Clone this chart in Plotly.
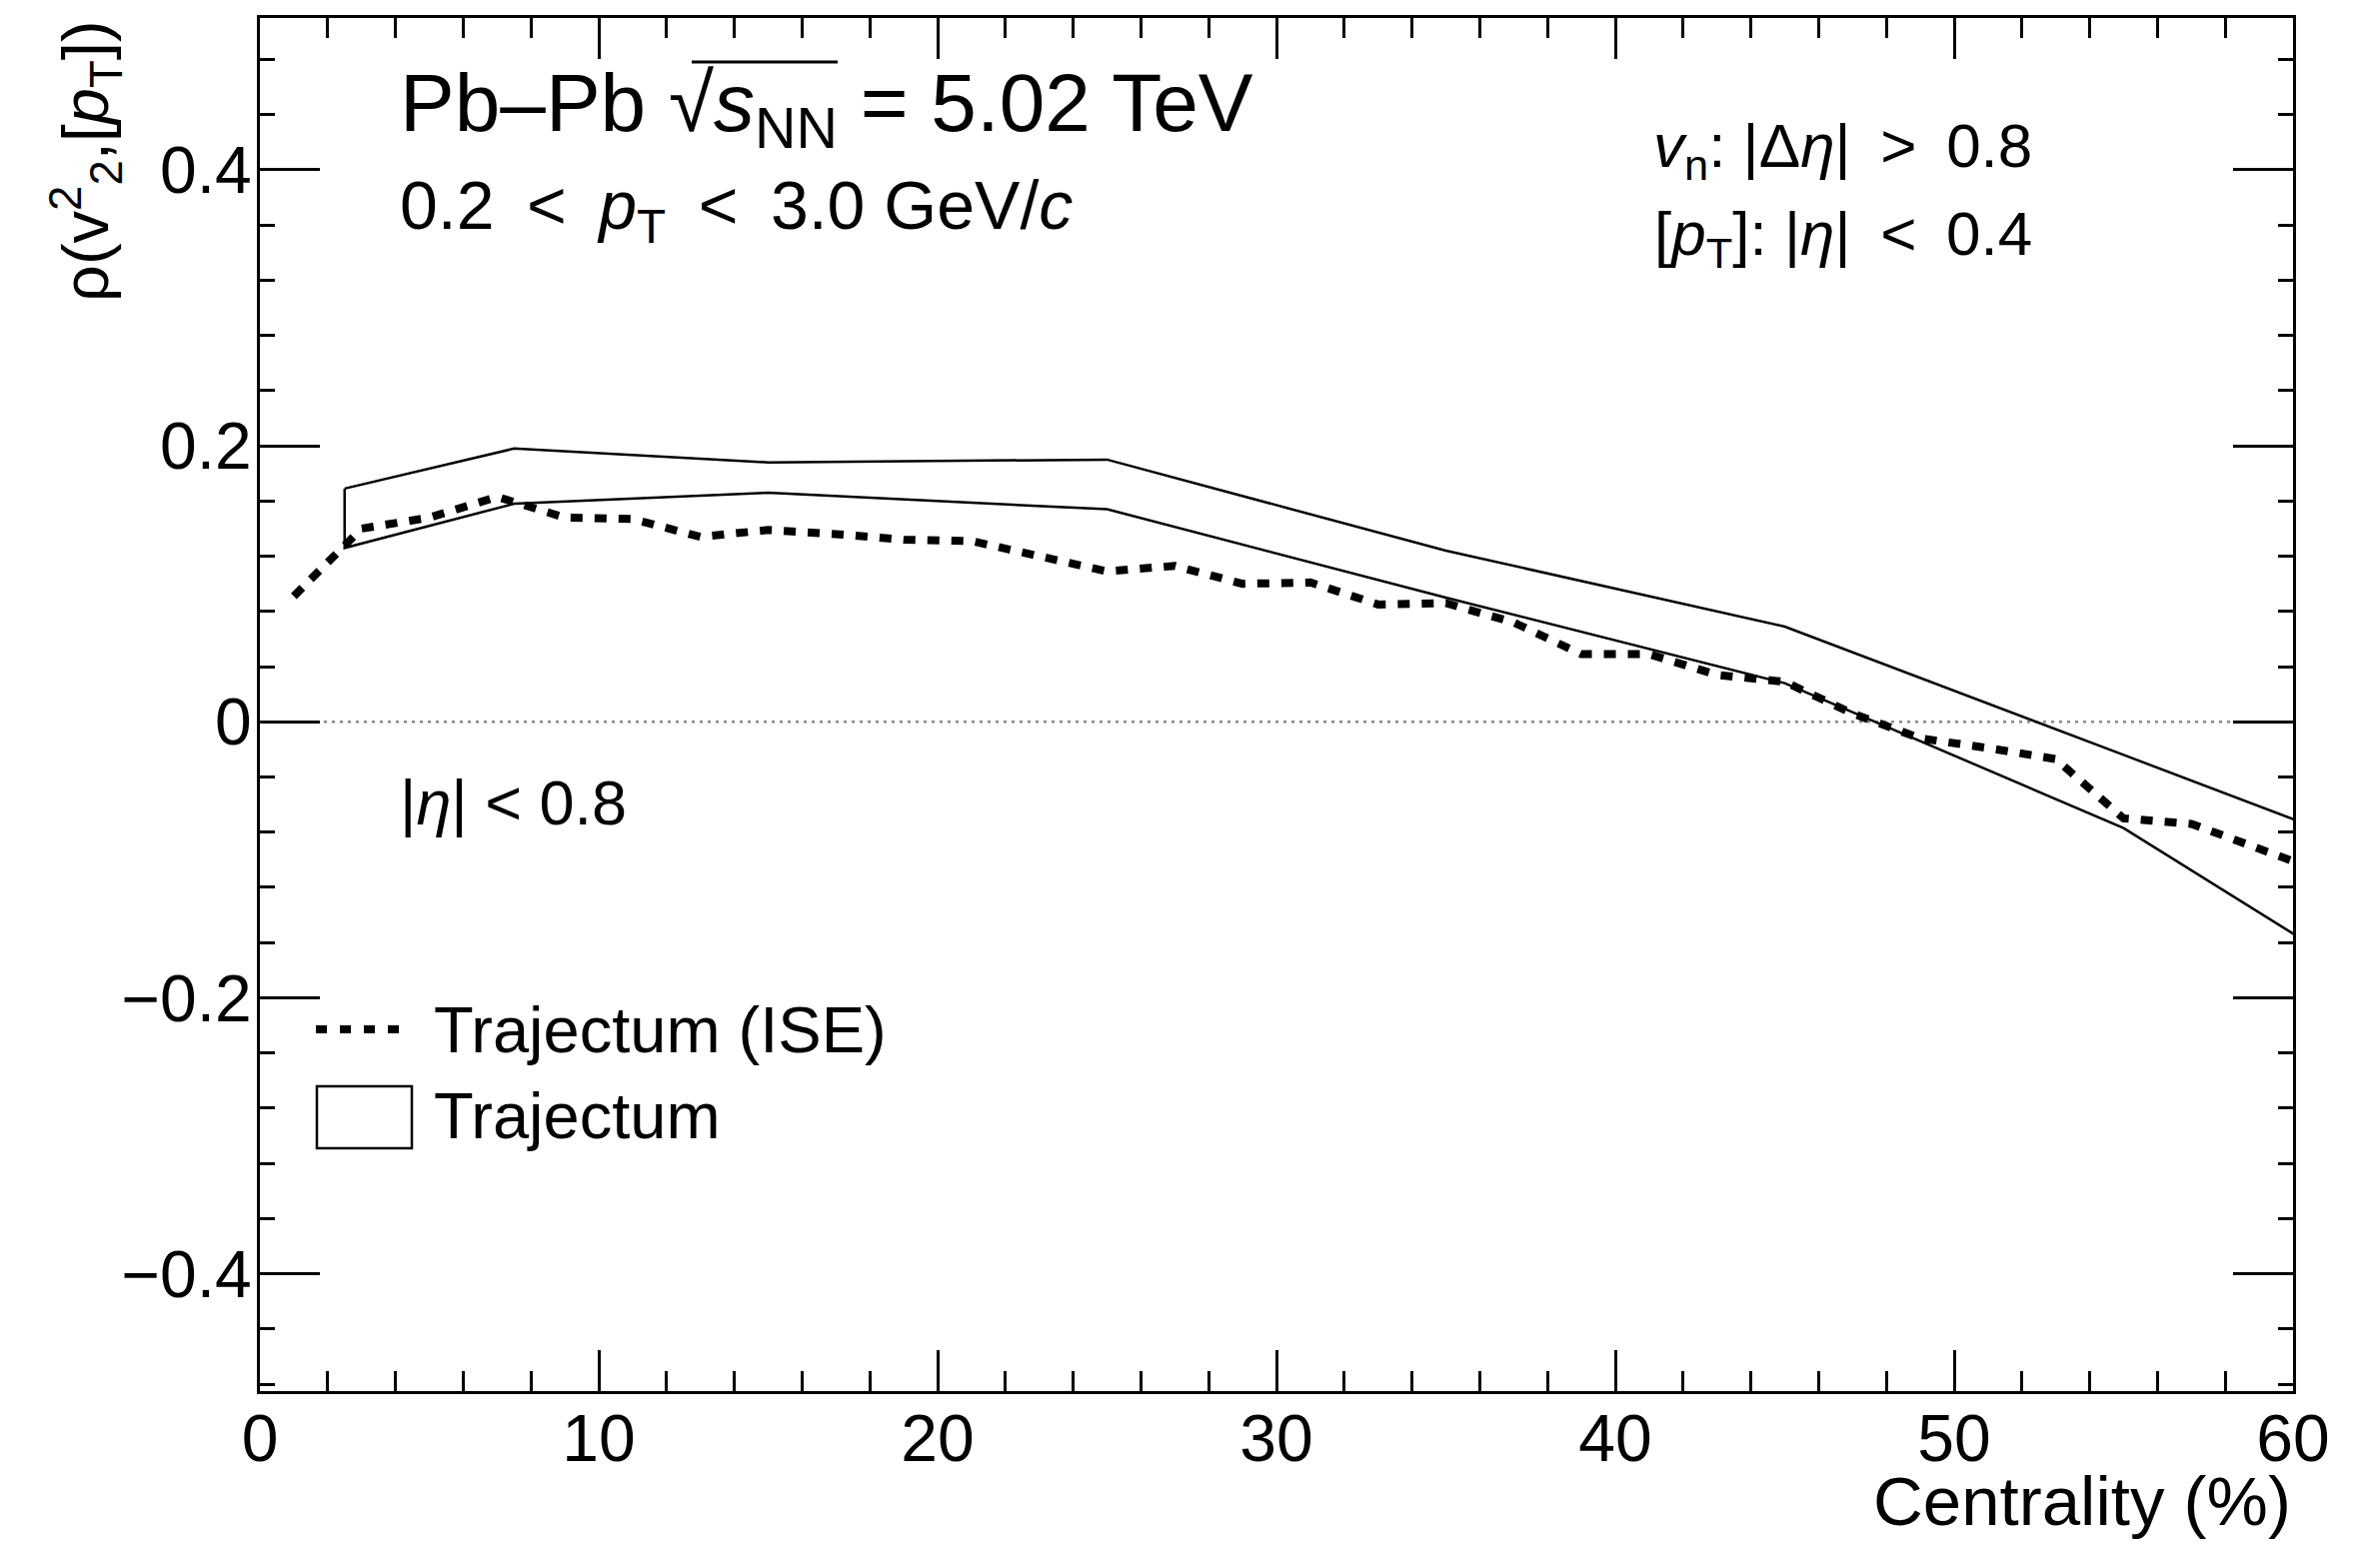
import plotly.graph_objects as go

# Trajectum (ISE) prediction, centrality in %
cent_ise = [1, 3, 5, 7, 9, 11, 13, 15, 17, 19, 21, 23, 25, 27, 29, 31,
            33, 35, 37, 39, 41, 43, 45, 47, 49, 51, 53, 55, 57, 59, 61]
rho_ise = [0.091, 0.140, 0.148, 0.163, 0.148, 0.147, 0.134, 0.139, 0.136,
           0.132, 0.131, 0.120, 0.109, 0.113, 0.100, 0.101, 0.085, 0.086,
           0.072, 0.049, 0.049, 0.034, 0.029, 0.006, -0.012, -0.019,
           -0.027, -0.070, -0.074, -0.092, -0.110]

# Trajectum band (upper / lower edges)
cent_band = [2.5, 7.5, 15, 25, 35, 45, 55, 65]
rho_band_hi = [0.169, 0.198, 0.188, 0.190, 0.124, 0.069, -0.024, -0.117]
rho_band_lo = [0.126, 0.158, 0.166, 0.154, 0.090, 0.028, -0.077, -0.230]

x_range = [0, 60]
y_range = [-0.485, 0.51]
y_ticks = [-0.4, -0.2, 0, 0.2, 0.4]
y_ticktext = ["\u22120.4", "\u22120.2", "0", "0.2", "0.4"]

FONT = "Liberation Sans, Arial, Helvetica, sans-serif"
SP = " \u2009"  # slightly wider word gap

fig = go.Figure()

# closed outline of the band
band_x = cent_band + cent_band[::-1] + [cent_band[0]]
band_y = rho_band_hi + rho_band_lo[::-1] + [rho_band_hi[0]]
fig.add_trace(go.Scatter(x=band_x, y=band_y, mode="lines",
                         line=dict(color="black", width=2.5),
                         name="Trajectum", showlegend=False))

fig.add_trace(go.Scatter(x=cent_ise, y=rho_ise, mode="lines",
                         line=dict(color="black", width=8, dash="12px,12px"),
                         name="Trajectum (ISE)", showlegend=False))

# dotted reference line at zero
fig.add_shape(type="line", xref="paper", yref="y", x0=0, x1=1, y0=0, y1=0,
              line=dict(color="#8a8a8a", width=2.5, dash="3px,5px"), layer="below")

axis_common = dict(showline=True, linecolor="black", linewidth=3,
                   mirror="allticks", showgrid=False, zeroline=False,
                   ticks="inside", tickcolor="black", tickwidth=2.5,
                   tickfont=dict(family=FONT, size=66, color="black"))

fig.update_xaxes(range=x_range, dtick=10, tick0=0, ticklen=41,
                 minor=dict(ticks="inside", dtick=2, ticklen=20,
                            tickwidth=2.5, tickcolor="black", showgrid=False),
                 ticklabelstandoff=-12,
                 **axis_common)
fig.update_yaxes(range=y_range, tickvals=y_ticks, ticktext=y_ticktext,
                 ticklen=60,
                 minor=dict(ticks="inside", dtick=0.04, tick0=0, ticklen=15,
                            tickwidth=2.5, tickcolor="black", showgrid=False),
                 ticklabelstandoff=-8,
                 **axis_common)

L, R, T, B = 260, 87, 18, 151
W, H = 2381, 1543
PW, PH = W - L - R, H - T - B


def px(xp):
    return (xp - L) / PW


def py(yp):
    return (H - B - yp) / PH


def note(text, x, y, size, xanchor="left", yanchor="middle", angle=0):
    fig.add_annotation(text=text, x=x, y=y, xref="paper", yref="paper",
                       xanchor=xanchor, yanchor=yanchor, showarrow=False,
                       textangle=angle,
                       font=dict(family=FONT, size=size, color="black"))


note("Pb\u2013Pb \u221a<i>s</i><sub>NN</sub> = 5.02 TeV", px(398), py(108), 82)
# bar of the square root over s_NN
fig.add_shape(type="line", xref="paper", yref="paper",
              x0=px(692), x1=px(838), y0=py(62), y1=py(62),
              line=dict(color="black", width=3))

note("0.2" + SP + "&lt;" + SP + "<i>p</i><sub>T</sub>" + SP + "&lt;" + SP
     + "3.0 GeV/<i>c</i>", px(398), py(210), 68)
note("<i>v</i><sub>n</sub>: |\u0394<i>\u03b7</i>|" + SP + "&gt;" + SP + "0.8",
     px(2035), py(150), 62, xanchor="right")
note("[<i>p</i><sub>T</sub>]: |<i>\u03b7</i>|" + SP + "&lt;" + SP + "0.4",
     px(2035), py(238), 62, xanchor="right")
note("|<i>\u03b7</i>| &lt; 0.8", px(398), py(803), 63)

# axis titles
note("Centrality (%)", 1.0, py(1503), 69, xanchor="right")
note("\u03c1(v<sup>2</sup><sub>2</sub>,[<i>p</i><sub>T</sub>])", px(86), 1.0, 65,
     xanchor="center", yanchor="top", angle=-90)

# legend
fig.add_shape(type="line", xref="paper", yref="paper",
              x0=px(316), x1=px(404), y0=py(1030), y1=py(1030),
              line=dict(color="black", width=8, dash="11px,13px"))
note("Trajectum (ISE)", px(432), py(1030), 65)
fig.add_shape(type="rect", xref="paper", yref="paper",
              x0=px(317), x1=px(412), y0=py(1087), y1=py(1149),
              line=dict(color="black", width=2.5), fillcolor="rgba(0,0,0,0)")
note("Trajectum", px(432), py(1116), 65)

fig.update_layout(width=W, height=H,
                  margin=dict(l=L, r=R, t=T, b=B, pad=0),
                  paper_bgcolor="white", plot_bgcolor="white",
                  showlegend=False,
                  font=dict(family=FONT, color="black"))

fig.write_html("out.html")
